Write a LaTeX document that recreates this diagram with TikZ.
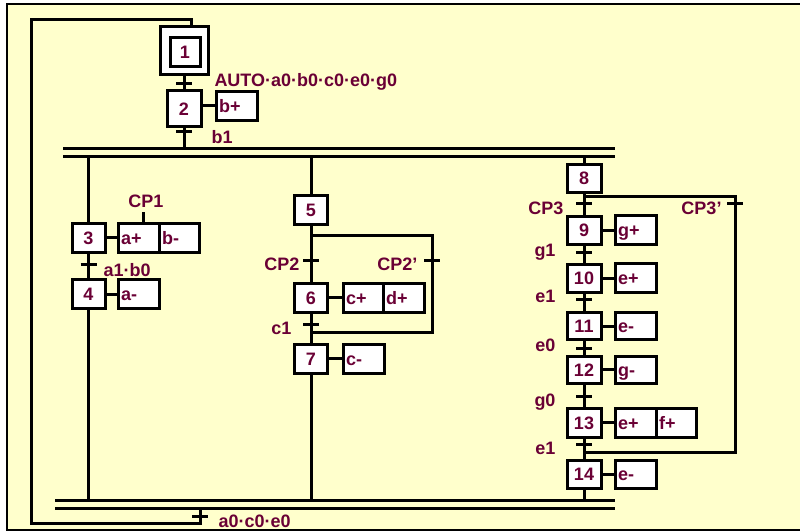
\documentclass[tikz,border=0pt]{standalone}
\usepackage{fontspec}
\setmainfont{Liberation Sans}
\definecolor{bgy}{HTML}{FFFFCC}
\definecolor{txt}{HTML}{6A0035}
\tikzset{
  stepbox/.style={draw, fill=white, minimum width=34pt, minimum height=29pt, inner sep=0pt, text=txt, text height=13pt, text depth=0pt},
  actbox/.style={draw, fill=white, minimum height=29pt, inner xsep=3pt, inner ysep=0pt, text=txt, text height=13pt, text depth=0pt, align=left, text width=35pt},
  lbl/.style={text=txt, inner sep=0pt, text height=13pt, text depth=0pt},
  tickmark/.style={line width=3pt}
}
\newcommand{\tk}[1]{\draw[tickmark] ([xshift=-8pt]#1) -- ([xshift=8pt]#1);}
\begin{document}
\begin{tikzpicture}[x=1pt,y=-1pt, line width=3pt, font=\fontsize{18}{20}\selectfont\bfseries]
\useasboundingbox (0,0) rectangle (800,532);
\fill[white] (0,0) rectangle (800,532);
\draw[fill=bgy, line width=2pt] (7,4) rectangle (808,530);

% ---- bars
\coordinate (bt1a) at (63,148); \coordinate (bt1b) at (615,148);
\coordinate (bt2a) at (63,156); \coordinate (bt2b) at (615,156);
\coordinate (bb1a) at (55,500); \coordinate (bb1b) at (615,500);
\coordinate (bb2a) at (55,508); \coordinate (bb2b) at (615,508);
\draw (bt1a) -- (bt1b); \draw (bt2a) -- (bt2b);
\draw (bb1a) -- (bb1b); \draw (bb2a) -- (bb2b);

% ---- steps 1, 2
\node[stepbox, minimum width=48pt, minimum height=48pt] (s1) at (184,51) {};
\node[stepbox, minimum width=30pt, minimum height=29pt] (s1i) at (185,52) {1};
\node[stepbox, minimum height=36pt] (s2) at (184,109) {2};
\node[actbox] (a2) at (236.5,106) {b+};
\draw (a2.west) -- (s2.east |- a2.west);
\draw (s1.south) -- (s2.north);
\coordinate (t12) at (184,84); \tk{t12}
\node[lbl, anchor=west] (l12) at (213,80) {AUTO·a0·b0·c0·e0·g0};
\coordinate (j2) at (184,148);
\draw (s2.south) -- (j2);
\coordinate (t2) at (184,132); \tk{t2}
\node[lbl, anchor=west] (l2) at (210,137) {b1};

% ---- left branch
\node[stepbox, minimum width=33pt] (s3) at (88.5,237.5) {3};
\node[actbox] (a3a) at (138.5,237.5) {a+};
\node[actbox, text width=34pt] (a3b) at (179,237.5) {b-};
\draw (s3.east) -- (a3a.west);
\coordinate (cp1) at (143,212);
\draw (a3a.north -| cp1) -- (cp1);
\node[lbl, anchor=south] (lcp1) at (146,209) {CP1};
\coordinate (jl) at (88.5,156);
\draw (jl) -- (s3.north);
\node[stepbox, minimum width=33pt] (s4) at (88.5,294) {4};
\node[actbox] (a4) at (138.5,294) {a-};
\draw (s4.east) -- (a4.west);
\draw (s3.south) -- (s4.north);
\coordinate (t34) at (88.5,264); \tk{t34}
\node[lbl, anchor=west] (l34) at (102,270) {a1·b0};
\coordinate (el) at (88.5,500);
\draw (s4.south) -- (el);

% ---- middle branch
\coordinate (jm) at (311,156);
\node[stepbox, minimum width=33pt] (s5) at (311,209.5) {5};
\draw (jm) -- (s5.north);
\node[stepbox, minimum width=33pt] (s6) at (311,297.5) {6};
\node[actbox, text width=34pt] (a6a) at (363,297.5) {c+};
\node[actbox] (a6b) at (403.5,297.5) {d+};
\draw (s6.east) -- (a6a.west);
\draw (s5.south) -- (s6.north);
\coordinate (dv5) at (311,235); \coordinate (dv5r) at (432,235);
\coordinate (cv6r) at (432,332); \coordinate (cv6) at (311,332);
\draw (dv5) -- (dv5r) -- (cv6r) -- (cv6);
\coordinate (tcp2) at (311,260); \tk{tcp2}
\coordinate (tcp2b) at (432,260); \tk{tcp2b}
\node[lbl, anchor=east] (lcp2) at (301,264) {CP2};
\node[lbl, anchor=east] (lcp2b) at (419,264) {CP2’};
\node[stepbox, minimum width=33pt] (s7) at (311,358.5) {7};
\node[actbox] (a7) at (363.5,358.5) {c-};
\draw (s7.east) -- (a7.west);
\draw (s6.south) -- (s7.north);
\coordinate (tc1) at (311,324); \tk{tc1}
\node[lbl, anchor=east] (lc1) at (293,328) {c1};
\coordinate (em) at (311,500);
\draw (s7.south) -- (em);

% ---- right branch
\coordinate (jr) at (584,156);
\node[stepbox, minimum height=28pt] (s8) at (584,178) {8};
\draw (jr) -- (s8.north);
\coordinate (dv8) at (584,196); \coordinate (dv8r) at (735,196);
\coordinate (cv13r) at (735,452); \coordinate (cv13) at (584,452);
\draw (dv8) -- (dv8r) -- (cv13r) -- (cv13);
\coordinate (tcp3) at (584,203); \tk{tcp3}
\coordinate (tcp3b) at (735,203); \tk{tcp3b}
\node[lbl, anchor=east] (lcp3) at (565,208) {CP3};
\node[lbl, anchor=east] (lcp3b) at (723,208) {CP3’};

\node[stepbox, minimum height=28pt] (s9) at (584,230) {9};
\node[actbox] (a9) at (635.5,230) {g+};
\node[stepbox, minimum height=28pt] (s10) at (584,278) {10};
\node[actbox] (a10) at (635.5,278) {e+};
\node[stepbox, minimum height=27pt] (s11) at (584,326) {11};
\node[actbox, minimum height=27pt] (a11) at (635.5,326) {e-};
\node[stepbox, minimum height=27pt] (s12) at (584,369.5) {12};
\node[actbox, minimum height=27pt] (a12) at (635.5,369.5) {g-};
\node[stepbox] (s13) at (584,422.5) {13};
\node[actbox] (a13a) at (635.5,422.5) {e+};
\node[actbox, text width=34pt] (a13b) at (676,422.5) {f+};
\node[stepbox, minimum height=28pt] (s14) at (584,474) {14};
\node[actbox, minimum height=28pt] (a14) at (635.5,474) {e-};
\foreach \s in {9,10,11,12,14} {\draw (s\s.east) -- (a\s.west);}
\draw (s13.east) -- (a13a.west);
\draw (s8.south) -- (s9.north);
\draw (s9.south) -- (s10.north);
\draw (s10.south) -- (s11.north);
\draw (s11.south) -- (s12.north);
\draw (s12.south) -- (s13.north);
\draw (s13.south) -- (s14.north);
\coordinate (er) at (584,500);
\draw (s14.south) -- (er);
\coordinate (tg1) at (584,252); \tk{tg1}
\node[lbl, anchor=east] (lg1) at (557,250) {g1};
\coordinate (te1) at (584,299); \tk{te1}
\node[lbl, anchor=east] (le1) at (557,296) {e1};
\coordinate (te0) at (584,348); \tk{te0}
\node[lbl, anchor=east] (le0) at (557,345) {e0};
\coordinate (tg0) at (584,396); \tk{tg0}
\node[lbl, anchor=east] (lg0) at (557,400) {g0};
\coordinate (te1b) at (584,444); \tk{te1b}
\node[lbl, anchor=east] (le1b) at (557,448) {e1};

% ---- loop back to step 1
\coordinate (lp0) at (191,27); \coordinate (lp1) at (191,20);
\coordinate (lp2) at (31,20); \coordinate (lp3) at (31,523);
\coordinate (lp4) at (200,523); \coordinate (lp5) at (200,508);
\draw[line join=miter] (lp5) -- (lp4) -- (lp3) -- (lp2) -- (lp1) -- (lp0);
\coordinate (tret) at (200,516); \tk{tret}
\node[lbl, anchor=west] (lret) at (217,521) {a0·c0·e0};
\end{tikzpicture}
\end{document}
